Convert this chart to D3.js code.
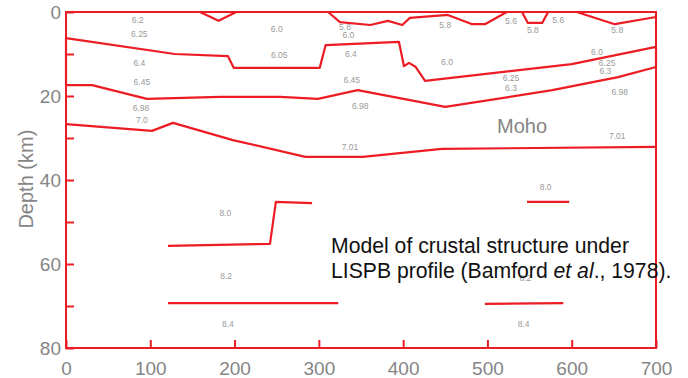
<!DOCTYPE html>
<html>
<head>
<meta charset="utf-8">
<script src="https://cdn.jsdelivr.net/npm/d3@7"></script>
<style>
  body { margin: 0; background: #fff; }
  svg text { font-family: "Liberation Sans", Arial, sans-serif; }
</style>
</head>
<body>
<svg id="chart" width="688" height="378"></svg>
<script>
// distance along profile (km), depth (km)
const xTicks = [0, 100, 200, 300, 400, 500, 600, 700]
const yTicks = [0, 10, 20, 30, 40, 50, 60, 70, 80]
const yLabels = [0, 20, 40, 60, 80]

// layer boundaries, each as [distance, depth]
const notchA = [[159, 0], [181, 2.1], [202, 0]]
const basinA = [[311, 0], [325, 2.4], [361, 3.1], [382, 2.1], [399, 3.1], [408, 1.4], [453, 0.7], [482, 2.9], [497, 2.9], [523, 0]]
const basinB = [[541, 0], [548, 2.6], [565, 2.6], [572, 0]]
const basinC = [[606, 0], [651, 2.9], [700, 1.2]]
const upperCrust = [[0, 17.4], [0, 6.2], [129, 10], [192, 10.5], [199, 13.3], [301, 13.3], [308, 7.9], [395, 7.1], [401, 12.9], [407, 12.1], [415, 13.1], [426, 16.4], [600, 12.4], [700, 8.3], [700, 13.1]]
const midCrust = [[0, 17.4], [31, 17.4], [96, 20.7], [183, 20.2], [254, 20.2], [299, 20.7], [346, 18.6], [450, 22.6], [577, 18.6], [655, 15.5], [700, 13.1]]
const moho = [[0, 26.7], [102, 28.3], [127, 26.4], [198, 30.5], [284, 34.5], [352, 34.5], [446, 32.6], [700, 32.1]]
const mantleStep = [[121, 55.7], [242, 55.2], [249, 45.2], [292, 45.5]]
const mantleEast = [[547, 45.2], [597, 45.2]]
const deepWest = [[121, 69.3], [323, 69.3]]
const deepEast = [[497, 69.5], [590, 69.3]]

// velocity labels (km/s): text, distance, depth
const velocityLabels = [
    ['6.2', 85, 2.1], ['6.25', 87, 5.5], ['6.4', 87, 12.4], ['6.45', 90, 16.9],
    ['6.98', 89, 23.1], ['7.0', 90, 26.0],
    ['6.0', 250, 4.3], ['6.05', 253, 10.5],
    ['5.8', 331, 3.8], ['6.0', 335, 5.7], ['6.4', 338, 10.2], ['6.45', 339, 16.4], ['6.98', 349, 22.6],
    ['7.01', 337, 32.4],
    ['5.8', 450, 3.3], ['6.0', 452, 12.1],
    ['5.6', 528, 2.4], ['5.8', 554, 4.5], ['5.6', 584, 2.2], ['5.8', 654, 4.5],
    ['6.0', 630, 9.8], ['6.25', 642, 12.4], ['6.3', 640, 14.3],
    ['6.25', 528, 15.9], ['6.3', 528, 18.3], ['6.98', 657, 19.3], ['7.01', 654, 29.8],
    ['8.0', 189, 48.1], ['8.2', 190, 63.1], ['8.4', 192, 74.5],
    ['8.0', 569, 41.9], ['8.2', 545, 63.6], ['8.4', 543, 74.5]
]

const red = '#ec1c24'
const grey = '#858585'

const svg = d3.select('#chart')

const x = d3.scaleLinear().domain([0, 700]).range([66, 656])
const y = d3.scaleLinear().domain([0, 80]).range([12, 348])

// axes (ticks point inward)
const xAxis = svg.append('g')
    .attr('transform', 'translate(0,' + y(80) + ')')
    .call(d3.axisBottom(x).tickValues(xTicks).tickSizeInner(-8).tickSizeOuter(0).tickPadding(14))
const yAxis = svg.append('g')
    .attr('transform', 'translate(' + x(0) + ',0)')
    .call(d3.axisLeft(y).tickValues(yTicks).tickSizeInner(-8).tickSizeOuter(0).tickPadding(5)
        .tickFormat(d => yLabels.includes(d) ? d : ''))

;[xAxis, yAxis].forEach(ax => {
    ax.select('.domain').remove()
    ax.selectAll('line').attr('stroke', red).attr('stroke-width', 2)
    ax.selectAll('text').attr('fill', grey).style('font-size', '19px')
})

// frame
svg.append('rect')
    .attr('x', x(0)).attr('y', y(0))
    .attr('width', x(700) - x(0)).attr('height', y(80) - y(0))
    .attr('fill', 'none').attr('stroke', red).attr('stroke-width', 2)

const line = d3.line().x(d => x(d[0])).y(d => y(d[1]))

const boundaries = [notchA, basinA, basinB, basinC, upperCrust, midCrust, moho, mantleStep, mantleEast, deepWest, deepEast]
svg.append('g').selectAll('path')
    .data(boundaries)
    .enter().append('path')
    .attr('d', line)
    .attr('fill', 'none')
    .attr('stroke', red)
    .attr('stroke-width', 2.2)
    .attr('stroke-linejoin', 'round')

svg.append('g').selectAll('text')
    .data(velocityLabels)
    .enter().append('text')
    .attr('x', d => x(d[1]))
    .attr('y', d => y(d[2]))
    .attr('text-anchor', 'middle')
    .attr('dominant-baseline', 'middle')
    .attr('fill', '#9a9a9a')
    .style('font-size', '8.5px')
    .text(d => d[0])

svg.append('text')
    .attr('x', x(541)).attr('y', y(27.6))
    .attr('text-anchor', 'middle')
    .attr('dominant-baseline', 'middle')
    .attr('fill', grey)
    .style('font-size', '20px')
    .text('Moho')

svg.append('text')
    .attr('transform', 'translate(33,' + y(39.8) + ') rotate(-90)')
    .attr('text-anchor', 'middle')
    .attr('fill', grey)
    .style('font-size', '20px')
    .text('Depth (km)')

const note = svg.append('text')
    .attr('x', 331).attr('y', 253)
    .attr('fill', '#111')
    .style('font-size', '21.2px')
note.append('tspan').text('Model of crustal structure under')
const l2 = note.append('tspan').attr('x', 331).attr('dy', 25)
l2.append('tspan').text('LISPB profile (Bamford ')
l2.append('tspan').style('font-style', 'italic').text('et al')
l2.append('tspan').text('., 1978).')
</script>
</body>
</html>
